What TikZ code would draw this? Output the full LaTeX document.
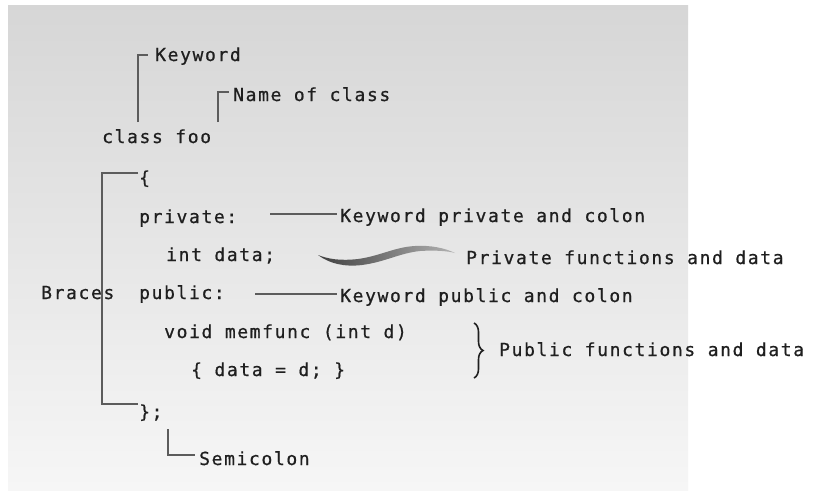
\documentclass[tikz,border=0pt]{standalone}
\usepackage{fontspec}
\newfontfamily\codefont[LetterSpace=9,FakeBold=0.7]{DejaVu Sans Mono}
\usetikzlibrary{decorations.pathreplacing}
\definecolor{bgtop}{gray}{0.84}
\definecolor{bgbot}{gray}{0.965}
\definecolor{txt}{gray}{0.12}
\definecolor{ln}{gray}{0.36}
\begin{document}
\begin{tikzpicture}[x=1pt,y=-1pt,
  lbl/.style={anchor=base west, inner sep=0pt, text=txt,
              font=\fontsize{18}{20}\selectfont\codefont},
  conn/.style={draw=ln, line width=1.8pt}]
\useasboundingbox (0,0) rectangle (817,491);
\fill[white] (0,0) rectangle (817,491);
\shade[top color=bgtop, bottom color=bgbot] (8,5) rectangle (688,490);

% texts
\node[lbl] (kw)    at (155,61)  {Keyword};
\node[lbl] (nm)    at (233,101) {Name of class};
\node[lbl] (cls)   at (102,143) {class foo};
\node[lbl] (ob)    at (139,184) {\{};
\node[lbl] (priv)  at (139,223) {private:};
\node[lbl] (kwp)   at (340,222) {Keyword private and colon};
\node[lbl] (intd)  at (166,261) {int data;};
\node[lbl] (pfd)   at (466,264) {Private functions and data};
\node[lbl] (br)    at (41,299)  {Braces};
\node[lbl] (pub)   at (139,299) {public:};
\node[lbl] (kwpub) at (340,302) {Keyword public and colon};
\node[lbl] (vm)    at (164,338) {void memfunc (int d)};
\node[lbl] (dd)    at (191,376) {\{ data = d; \}};
\node[lbl] (pubfd) at (499,356) {Public functions and data};
\node[lbl] (cb)    at (139,418) {\};};
\node[lbl] (semi)  at (199,465) {Semicolon};

% named coordinates for connector ends
\coordinate (kwb) at (138,122);
\coordinate (kwt) at (148,55);
\coordinate (nmb) at (218,122);
\coordinate (nmt) at (229,92);
\coordinate (bt)  at (138,173);
\coordinate (bl)  at (102,290);
\coordinate (bb)  at (138,404);
\coordinate (pl)  at (270,214);
\coordinate (pr)  at (337,214);
\coordinate (ul)  at (255,294);
\coordinate (ur)  at (337,294);
\coordinate (sb)  at (168,429);
\coordinate (se)  at (195,455);
\coordinate (brt) at (474,323);
\coordinate (brb) at (474,378);

% connectors
\draw[conn] (kwb) |- (kwt);
\draw[conn] (nmb) |- (nmt);
\draw[conn] (bt) -| (bl) |- (bb);
\draw[conn] (pl) -- (pr);
\draw[conn] (ul) -- (ur);
\draw[conn] (sb) |- (se);
\draw[draw=txt, line width=1.6pt, decorate, decoration={brace, amplitude=9pt}] (brt) -- (brb);

% brush stroke swoosh
\shade[left color=black!75, right color=black!30]
  (318,255) .. controls (330,264) and (345,267) .. (362,265)
  .. controls (385,262) and (400,253) .. (420,251)
  .. controls (435,250) and (448,251) .. (455,253)
  .. controls (445,248) and (430,245) .. (415,246)
  .. controls (395,247) and (380,256) .. (358,259)
  .. controls (340,261) and (328,259) .. (318,255) -- cycle;
\end{tikzpicture}
\end{document}
